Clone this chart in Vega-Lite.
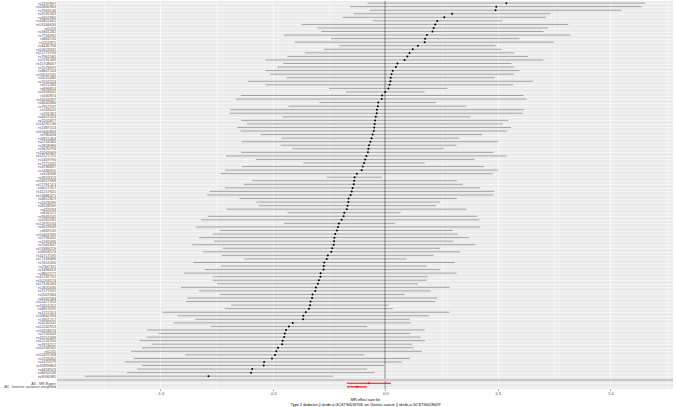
{
  "$schema": "https://vega.github.io/schema/vega-lite/v6.json",
  "width": 616,
  "height": 388,
  "autosize": {"type": "none"},
  "padding": {"left": 57, "right": 3, "top": 1, "bottom": 18},
  "config": {
    "font": "Liberation Sans",
    "view": {"fill": "#EBEBEB", "stroke": null},
    "axisY": {"domain": false, "ticks": false, "grid": true, "gridColor": "#FFFFFF", "gridWidth": 0.5, "labelFontSize": 3.8, "labelColor": "#4D4D4D", "labelPadding": 1.5, "labelOverlap": false, "labelBaseline": "middle"},
    "axisX": {
      "domain": false,
      "grid": true,
      "gridColor": "#FFFFFF",
      "tickSize": 1.5, "tickWidth": 0.5, "tickColor": "#333333",
      "labelFontSize": 4.2, "labelColor": "#4D4D4D", "labelPadding": 1,
      "titleFontSize": 3.8, "titleFontWeight": "normal", "titleColor": "#000000", "titlePadding": 1.5, "titleLineHeight": 5
    }
  },
  "data": {
    "values": [
      {"SNP": "rs2237897", "b": 0.538, "lo": -0.079, "up": 1.154, "type": "snp"},
      {"SNP": "rs10830963", "b": 0.493, "lo": -0.156, "up": 1.140, "type": "snp"},
      {"SNP": "rs7903146", "b": 0.490, "lo": -0.070, "up": 1.049, "type": "snp"},
      {"SNP": "rs1531343", "b": 0.297, "lo": -0.140, "up": 0.734, "type": "snp"},
      {"SNP": "rs4402960", "b": 0.262, "lo": -0.189, "up": 0.714, "type": "snp"},
      {"SNP": "rs10811661", "b": 0.231, "lo": -0.056, "up": 0.519, "type": "snp"},
      {"SNP": "rs13266634", "b": 0.222, "lo": -0.372, "up": 0.813, "type": "snp"},
      {"SNP": "rs5219", "b": 0.215, "lo": -0.301, "up": 0.724, "type": "snp"},
      {"SNP": "rs1801282", "b": 0.210, "lo": -0.283, "up": 0.703, "type": "snp"},
      {"SNP": "rs7756992", "b": 0.185, "lo": -0.450, "up": 0.822, "type": "snp"},
      {"SNP": "rs864745", "b": 0.177, "lo": -0.241, "up": 0.596, "type": "snp"},
      {"SNP": "rs1111875", "b": 0.175, "lo": -0.402, "up": 0.750, "type": "snp"},
      {"SNP": "rs4430796", "b": 0.145, "lo": -0.204, "up": 0.490, "type": "snp"},
      {"SNP": "rs10923931", "b": 0.122, "lo": -0.271, "up": 0.516, "type": "snp"},
      {"SNP": "rs12779790", "b": 0.108, "lo": -0.357, "up": 0.573, "type": "snp"},
      {"SNP": "rs7961581", "b": 0.098, "lo": -0.434, "up": 0.633, "type": "snp"},
      {"SNP": "rs2191349", "b": 0.086, "lo": -0.532, "up": 0.703, "type": "snp"},
      {"SNP": "rs11708067", "b": 0.054, "lo": -0.453, "up": 0.561, "type": "snp"},
      {"SNP": "rs7578597", "b": 0.047, "lo": -0.479, "up": 0.573, "type": "snp"},
      {"SNP": "rs4607103", "b": 0.033, "lo": -0.532, "up": 0.596, "type": "snp"},
      {"SNP": "rs10010131", "b": 0.028, "lo": -0.512, "up": 0.572, "type": "snp"},
      {"SNP": "rs5015480", "b": 0.024, "lo": -0.439, "up": 0.486, "type": "snp"},
      {"SNP": "rs1552224", "b": 0.023, "lo": -0.610, "up": 0.656, "type": "snp"},
      {"SNP": "rs972283", "b": 0.019, "lo": -0.531, "up": 0.568, "type": "snp"},
      {"SNP": "rs896854", "b": 0.014, "lo": -0.250, "up": 0.276, "type": "snp"},
      {"SNP": "rs2943641", "b": 0.000, "lo": -0.175, "up": 0.175, "type": "snp"},
      {"SNP": "rs340874", "b": -0.014, "lo": -0.642, "up": 0.614, "type": "snp"},
      {"SNP": "rs11634397", "b": -0.016, "lo": -0.663, "up": 0.628, "type": "snp"},
      {"SNP": "rs8042680", "b": -0.031, "lo": -0.292, "up": 0.224, "type": "snp"},
      {"SNP": "rs7957197", "b": -0.033, "lo": -0.430, "up": 0.360, "type": "snp"},
      {"SNP": "rs243021", "b": -0.037, "lo": -0.689, "up": 0.617, "type": "snp"},
      {"SNP": "rs231362", "b": -0.038, "lo": -0.691, "up": 0.610, "type": "snp"},
      {"SNP": "rs4457053", "b": -0.042, "lo": -0.458, "up": 0.378, "type": "snp"},
      {"SNP": "rs7202877", "b": -0.045, "lo": -0.640, "up": 0.547, "type": "snp"},
      {"SNP": "rs13292136", "b": -0.047, "lo": -0.615, "up": 0.521, "type": "snp"},
      {"SNP": "rs1387153", "b": -0.049, "lo": -0.657, "up": 0.559, "type": "snp"},
      {"SNP": "rs10440833", "b": -0.051, "lo": -0.643, "up": 0.542, "type": "snp"},
      {"SNP": "rs780094", "b": -0.056, "lo": -0.554, "up": 0.430, "type": "snp"},
      {"SNP": "rs6815464", "b": -0.061, "lo": -0.460, "up": 0.329, "type": "snp"},
      {"SNP": "rs2233580", "b": -0.066, "lo": -0.638, "up": 0.502, "type": "snp"},
      {"SNP": "rs2858980", "b": -0.072, "lo": -0.465, "up": 0.316, "type": "snp"},
      {"SNP": "rs9470794", "b": -0.075, "lo": -0.413, "up": 0.260, "type": "snp"},
      {"SNP": "rs11063069", "b": -0.077, "lo": -0.640, "up": 0.481, "type": "snp"},
      {"SNP": "rs12571751", "b": -0.084, "lo": -0.708, "up": 0.538, "type": "snp"},
      {"SNP": "rs1359790", "b": -0.089, "lo": -0.575, "up": 0.397, "type": "snp"},
      {"SNP": "rs7172432", "b": -0.094, "lo": -0.364, "up": 0.175, "type": "snp"},
      {"SNP": "rs3786897", "b": -0.100, "lo": -0.636, "up": 0.439, "type": "snp"},
      {"SNP": "rs1436955", "b": -0.105, "lo": -0.712, "up": 0.502, "type": "snp"},
      {"SNP": "rs516946", "b": -0.126, "lo": -0.731, "up": 0.477, "type": "snp"},
      {"SNP": "rs3923113", "b": -0.136, "lo": -0.260, "up": -0.014, "type": "snp"},
      {"SNP": "rs16927668", "b": -0.138, "lo": -0.593, "up": 0.318, "type": "snp"},
      {"SNP": "rs17791513", "b": -0.140, "lo": -0.629, "up": 0.344, "type": "snp"},
      {"SNP": "rs6017317", "b": -0.145, "lo": -0.712, "up": 0.421, "type": "snp"},
      {"SNP": "rs11257655", "b": -0.149, "lo": -0.780, "up": 0.484, "type": "snp"},
      {"SNP": "rs10886471", "b": -0.154, "lo": -0.792, "up": 0.479, "type": "snp"},
      {"SNP": "rs4812829", "b": -0.163, "lo": -0.647, "up": 0.318, "type": "snp"},
      {"SNP": "rs2028299", "b": -0.164, "lo": -0.573, "up": 0.243, "type": "snp"},
      {"SNP": "rs8108269", "b": -0.168, "lo": -0.561, "up": 0.224, "type": "snp"},
      {"SNP": "rs459193", "b": -0.171, "lo": -0.706, "up": 0.360, "type": "snp"},
      {"SNP": "rs831571", "b": -0.182, "lo": -0.434, "up": 0.068, "type": "snp"},
      {"SNP": "rs9309245", "b": -0.185, "lo": -0.788, "up": 0.409, "type": "snp"},
      {"SNP": "rs2261181", "b": -0.194, "lo": -0.818, "up": 0.418, "type": "snp"},
      {"SNP": "rs12970134", "b": -0.206, "lo": -0.451, "up": 0.044, "type": "snp"},
      {"SNP": "rs4929949", "b": -0.210, "lo": -0.841, "up": 0.421, "type": "snp"},
      {"SNP": "rs849135", "b": -0.215, "lo": -0.733, "up": 0.299, "type": "snp"},
      {"SNP": "rs10401969", "b": -0.222, "lo": -0.767, "up": 0.323, "type": "snp"},
      {"SNP": "rs2796441", "b": -0.226, "lo": -0.827, "up": 0.372, "type": "snp"},
      {"SNP": "rs1182436", "b": -0.227, "lo": -0.760, "up": 0.302, "type": "snp"},
      {"SNP": "rs7041847", "b": -0.229, "lo": -0.857, "up": 0.400, "type": "snp"},
      {"SNP": "rs13389219", "b": -0.236, "lo": -0.722, "up": 0.243, "type": "snp"},
      {"SNP": "rs6808574", "b": -0.240, "lo": -0.811, "up": 0.332, "type": "snp"},
      {"SNP": "rs11717195", "b": -0.255, "lo": -0.726, "up": 0.215, "type": "snp"},
      {"SNP": "rs17168486", "b": -0.260, "lo": -0.626, "up": 0.094, "type": "snp"},
      {"SNP": "rs7651090", "b": -0.271, "lo": -0.853, "up": 0.308, "type": "snp"},
      {"SNP": "rs2307111", "b": -0.273, "lo": -0.731, "up": 0.184, "type": "snp"},
      {"SNP": "rs1496653", "b": -0.274, "lo": -0.801, "up": 0.245, "type": "snp"},
      {"SNP": "rs3802177", "b": -0.287, "lo": -0.893, "up": 0.316, "type": "snp"},
      {"SNP": "rs11787792", "b": -0.288, "lo": -0.767, "up": 0.189, "type": "snp"},
      {"SNP": "rs10203174", "b": -0.295, "lo": -0.766, "up": 0.184, "type": "snp"},
      {"SNP": "rs17106184", "b": -0.299, "lo": -0.747, "up": 0.145, "type": "snp"},
      {"SNP": "rs2820436", "b": -0.308, "lo": -0.907, "up": 0.287, "type": "snp"},
      {"SNP": "rs7177055", "b": -0.311, "lo": -0.827, "up": 0.201, "type": "snp"},
      {"SNP": "rs2007084", "b": -0.323, "lo": -0.734, "up": 0.086, "type": "snp"},
      {"SNP": "rs8182584", "b": -0.325, "lo": -0.881, "up": 0.231, "type": "snp"},
      {"SNP": "rs12427353", "b": -0.332, "lo": -0.885, "up": 0.222, "type": "snp"},
      {"SNP": "rs11651052", "b": -0.334, "lo": -0.685, "up": 0.017, "type": "snp"},
      {"SNP": "rs6813195", "b": -0.339, "lo": -0.713, "up": 0.033, "type": "snp"},
      {"SNP": "rs1727313", "b": -0.353, "lo": -0.991, "up": 0.285, "type": "snp"},
      {"SNP": "rs10842994", "b": -0.364, "lo": -0.923, "up": 0.194, "type": "snp"},
      {"SNP": "rs1801212", "b": -0.365, "lo": -0.844, "up": 0.108, "type": "snp"},
      {"SNP": "rs3130501", "b": -0.411, "lo": -0.939, "up": 0.114, "type": "snp"},
      {"SNP": "rs12242953", "b": -0.428, "lo": -0.776, "up": -0.080, "type": "snp"},
      {"SNP": "rs10258074", "b": -0.441, "lo": -1.058, "up": 0.175, "type": "snp"},
      {"SNP": "rs2192649", "b": -0.446, "lo": -1.007, "up": 0.112, "type": "snp"},
      {"SNP": "rs11552449", "b": -0.449, "lo": -1.059, "up": 0.157, "type": "snp"},
      {"SNP": "rs12131950", "b": -0.456, "lo": -1.091, "up": 0.177, "type": "snp"},
      {"SNP": "rs7674212", "b": -0.458, "lo": -1.038, "up": 0.119, "type": "snp"},
      {"SNP": "rs10748582", "b": -0.476, "lo": -1.080, "up": 0.126, "type": "snp"},
      {"SNP": "rs5215", "b": -0.484, "lo": -1.129, "up": 0.163, "type": "snp"},
      {"SNP": "rs12497268", "b": -0.490, "lo": -0.888, "up": -0.094, "type": "snp"},
      {"SNP": "rs2203452", "b": -0.503, "lo": -1.117, "up": 0.110, "type": "snp"},
      {"SNP": "rs1470579", "b": -0.538, "lo": -1.157, "up": 0.075, "type": "snp"},
      {"SNP": "rs11899863", "b": -0.540, "lo": -1.080, "up": -0.005, "type": "snp"},
      {"SNP": "rs4458523", "b": -0.591, "lo": -1.101, "up": -0.080, "type": "snp"},
      {"SNP": "rs8050136", "b": -0.596, "lo": -1.147, "up": -0.049, "type": "snp"},
      {"SNP": "rs9936385", "b": -0.785, "lo": -1.334, "up": -0.231, "type": "snp"},
      {"SNP": "All - MR Egger", "b": -0.074, "lo": -0.171, "up": 0.025, "type": "all"},
      {"SNP": "All - Inverse variance weighted", "b": -0.125, "lo": -0.170, "up": -0.082, "type": "all"}
    ]
  },
  "encoding": {
    "y": {"field": "SNP", "type": "ordinal", "title": null, "scale": {"type": "point", "padding": 0.6, "domain": ["rs2237897","rs10830963","rs7903146","rs1531343","rs4402960","rs10811661","rs13266634","rs5219","rs1801282","rs7756992","rs864745","rs1111875","rs4430796","rs10923931","rs12779790","rs7961581","rs2191349","rs11708067","rs7578597","rs4607103","rs10010131","rs5015480","rs1552224","rs972283","rs896854","rs2943641","rs340874","rs11634397","rs8042680","rs7957197","rs243021","rs231362","rs4457053","rs7202877","rs13292136","rs1387153","rs10440833","rs780094","rs6815464","rs2233580","rs2858980","rs9470794","rs11063069","rs12571751","rs1359790","rs7172432","rs3786897","rs1436955","rs516946","rs3923113","rs16927668","rs17791513","rs6017317","rs11257655","rs10886471","rs4812829","rs2028299","rs8108269","rs459193","rs831571","rs9309245","rs2261181","rs12970134","rs4929949","rs849135","rs10401969","rs2796441","rs1182436","rs7041847","rs13389219","rs6808574","rs11717195","rs17168486","rs7651090","rs2307111","rs1496653","rs3802177","rs11787792","rs10203174","rs17106184","rs2820436","rs7177055","rs2007084","rs8182584","rs12427353","rs11651052","rs6813195","rs1727313","rs10842994","rs1801212","rs3130501","rs12242953","rs10258074","rs2192649","rs11552449","rs12131950","rs7674212","rs10748582","rs5215","rs12497268","rs2203452","rs1470579","rs11899863","rs4458523","rs8050136","rs9936385","","All - MR Egger","All - Inverse variance weighted"]}, "axis": {"labelOverlap": false}},
    "x": {"field": "b", "type": "quantitative", "title": ["MR effect size for", "'Type 2 diabetes || id:ebi-a-GCST90018706' on 'Gastric cancer || id:ebi-a-GCST90018629'"], "scale": {"domain": [-1.458, 1.278], "nice": false, "zero": false},
      "axis": {
        "values": [-1.25, -1, -0.75, -0.5, -0.25, 0, 0.25, 0.5, 0.75, 1, 1.25],
        "labelExpr": "abs(datum.value*2-round(datum.value*2))<0.001 ? (datum.value<0?'-':'') + format(abs(datum.value),'.1f') : ''",
        "gridWidth": {"condition": {"test": "abs(datum.value*2-round(datum.value*2))<0.001", "value": 0.7}, "value": 0.35},
        "tickOpacity": {"condition": {"test": "abs(datum.value*2-round(datum.value*2))<0.001", "value": 1}, "value": 0},
        "labelOverlap": false, "labelFlush": false, "labelBound": false
      }},
    "color": {"field": "type", "type": "nominal", "scale": {"domain": ["snp", "all"], "range": ["#000000", "#FF0000"]}, "legend": null}
  },
  "layer": [
    {
      "mark": {"type": "rule", "strokeWidth": 0.5},
      "encoding": {
        "x": {"datum": 0, "type": "quantitative"},
        "y": {"value": 0},
        "y2": {"value": 388},
        "color": {"value": "#BDBDBD"}
      }
    },
    {
      "mark": {"type": "rule", "strokeWidth": 0.5},
      "encoding": {
        "y": {"datum": "", "type": "ordinal"},
        "x": {"value": 0},
        "x2": {"value": 616},
        "color": {"value": "#C8C8C8"}
      }
    },
    {
      "mark": {"type": "rule"},
      "encoding": {
        "x": {"field": "lo", "type": "quantitative"},
        "x2": {"field": "up"},
        "opacity": {"field": "type", "type": "nominal", "scale": {"domain": ["snp", "all"], "range": [0.55, 1]}, "legend": null},
        "strokeWidth": {"field": "type", "type": "nominal", "scale": {"domain": ["snp", "all"], "range": [0.6, 1.1]}, "legend": null}
      }
    },
    {
      "mark": {"type": "point", "filled": true, "shape": "circle", "opacity": 1, "size": 4}
    }
  ]
}
